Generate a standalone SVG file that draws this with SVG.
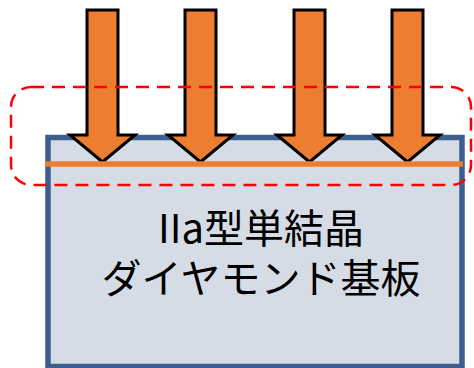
<svg xmlns="http://www.w3.org/2000/svg" width="474" height="368" viewBox="0 0 474 368">
<style>
.arrow{fill:#ED7D31;stroke:#000;stroke-width:3;stroke-linejoin:miter}
.lbl{font-family:"Noto Sans CJK JP","Noto Sans",sans-serif;font-size:40px;fill:#000;text-anchor:middle}
</style>
<g id="substrate">
<rect x="48" y="137.5" width="414" height="229" fill="#D6DCE5" stroke="#3B5E8C" stroke-width="5.5"/>
<text class="lbl" x="261" y="243">IIa型単結晶</text>
<text class="lbl" x="261" y="293">ダイヤモンド基板</text>
</g>
<g id="arrows">
<polygon id="arrow1" class="arrow" points="87,10 118,10 118,135 135,135 102.5,162 70,135 87,135"/>
<polygon id="arrow2" class="arrow" points="185,10 216,10 216,135 233,135 200.5,162 168,135 185,135"/>
<polygon id="arrow3" class="arrow" points="294,10 325,10 325,135 342,135 309.5,162 277,135 294,135"/>
<polygon id="arrow4" class="arrow" points="392,10 423,10 423,135 440,135 407.5,162 375,135 392,135"/>
</g>
<g id="surface-layer">
<line x1="45" y1="164" x2="463" y2="164" stroke="#ED7D31" stroke-width="5.5"/>
</g>
<g id="region">
<rect x="11" y="87" width="460" height="98" rx="20" ry="20" fill="none" stroke="#FF0000" stroke-width="2.5" stroke-dasharray="13,8"/>
</g>
</svg>
